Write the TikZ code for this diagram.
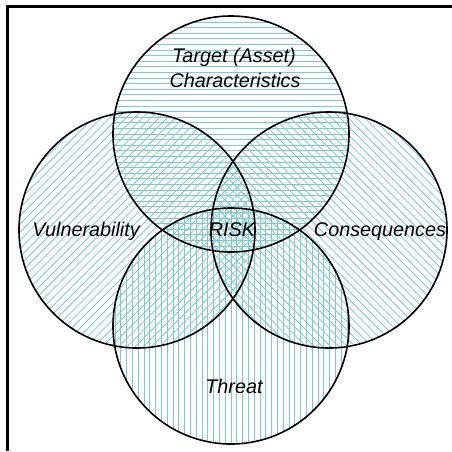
\documentclass[tikz,border=0pt]{standalone}
\usepackage{fontspec}
\setmainfont{Liberation Sans}
\definecolor{hatch}{RGB}{125,203,206}
\begin{document}
\begin{tikzpicture}[x=1pt,y=-1pt,
  hatchline/.style={draw=hatch,line width=0.8pt},
  ring/.style={draw=black,line width=1.6pt},
  lbl/.style={font=\fontsize{19.8}{22}\selectfont\itshape,anchor=base,inner sep=0pt},
  frameline/.style={draw=black,line width=3pt}]
\useasboundingbox (0,0) rectangle (452,451);
\def\R{118}
\coordinate (T) at (231,134);
\coordinate (L) at (137,230);
\coordinate (Rc) at (329,230);
\coordinate (B) at (231,326);
\coordinate (f1) at (452,6.5);
\coordinate (f2) at (7.5,6.5);
\coordinate (f3) at (7.5,451);
\draw[frameline] (f1) -- (f2) -- (f3);
% top: horizontal hatching
\begin{scope}
\clip (T) circle (\R);
\foreach \s in {-22,...,22}
  \draw[hatchline] ([shift={(-130,5.6*\s)}]T) -- ([shift={(130,5.6*\s)}]T);
\end{scope}
% left: / hatching
\begin{scope}
\clip (L) circle (\R);
\foreach \s in {-32,...,32}
  \draw[hatchline] ([shift={(-130+8.2*\s,130)}]L) -- ([shift={(130+8.2*\s,-130)}]L);
\end{scope}
% right: \ hatching
\begin{scope}
\clip (Rc) circle (\R);
\foreach \s in {-32,...,32}
  \draw[hatchline] ([shift={(-130+8.2*\s,-130)}]Rc) -- ([shift={(130+8.2*\s,130)}]Rc);
\end{scope}
% bottom: vertical hatching
\begin{scope}
\clip (B) circle (\R);
\foreach \s in {-22,...,22}
  \draw[hatchline] ([shift={(5.8*\s,-130)}]B) -- ([shift={(5.8*\s,130)}]B);
\end{scope}
\draw[ring] (T) circle (\R);
\draw[ring] (L) circle (\R);
\draw[ring] (Rc) circle (\R);
\draw[ring] (B) circle (\R);
\node[lbl] (t1) at (234,62) {Target (Asset)};
\node[lbl] (t2) at (235,87) {Characteristics};
\node[lbl] (v) at (86,236) {Vulnerability};
\node[lbl] (r) at (232,236) {RISK};
\node[lbl] (c) at (380,236) {Consequences};
\node[lbl] (th) at (234,393) {Threat};
\end{tikzpicture}
\end{document}
